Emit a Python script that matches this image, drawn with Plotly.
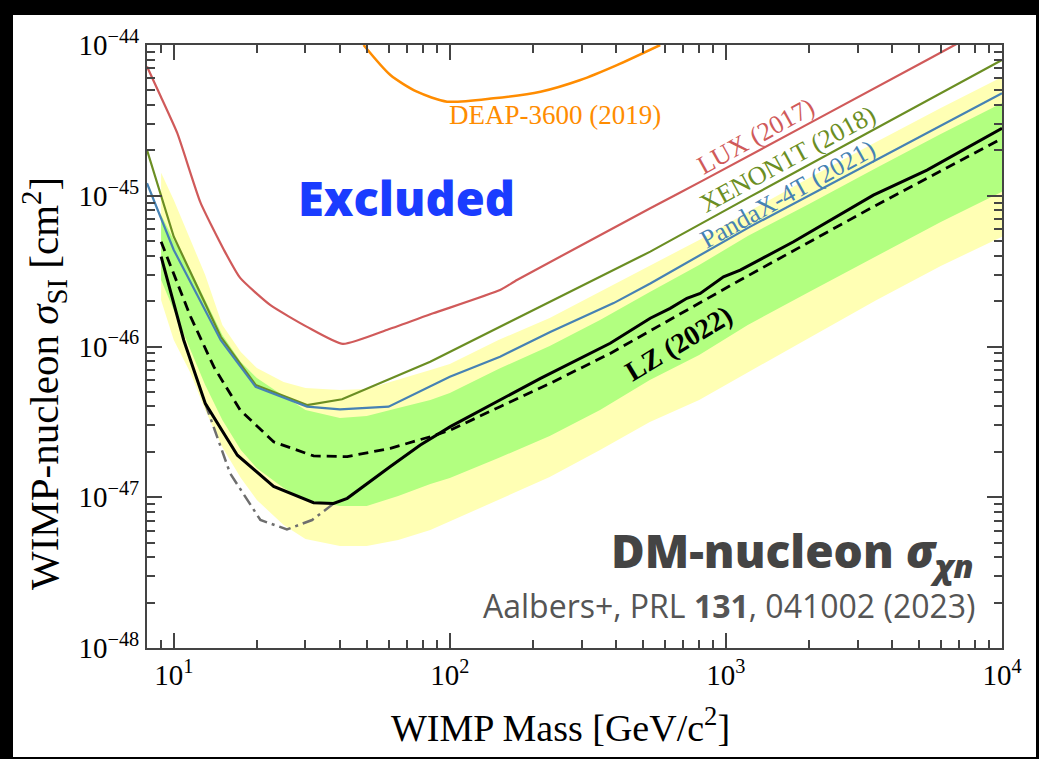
import plotly.graph_objects as go
import math

# ---------------- data ----------------
# LUX (2017)
lux_mass = [8, 9, 10.3, 12.5, 15.2, 17.4, 22.4, 30.4, 41, 60, 87, 152, 175, 532, 830, 5350, 10000]
lux_xsec = [7.2e-45, 4.5e-45, 2.6e-45, 9.0e-46, 4.37e-46, 2.85e-46, 1.88e-46, 1.35e-46, 1.04e-46,
            1.3e-46, 1.66e-46, 2.37e-46, 2.76e-46, 8.26e-46, 1.27e-45, 7.95e-45, 1.48e-44]

# XENON1T (2018)
x1t_mass = [8, 10, 14.8, 19.8, 30.4, 40.7, 84.9, 152, 231, 532, 1225, 10000]
x1t_xsec = [2.01e-45, 5.35e-46, 1.16e-46, 5.56e-47, 4.09e-47, 4.47e-47, 7.93e-47, 1.35e-46,
            1.98e-46, 4.26e-46, 9.87e-46, 7.95e-45]

# PandaX-4T (2021)
pdx_mass = [8, 10, 14.8, 19.8, 30.4, 40, 60, 100, 152, 231, 392, 532, 1225, 10000]
pdx_xsec = [1.21e-45, 4.37e-46, 1.1e-46, 5.4e-47, 3.99e-47, 3.83e-47, 3.99e-47, 6.3e-47, 8.55e-47,
            1.25e-46, 1.94e-46, 2.62e-46, 6.24e-46, 4.79e-45]

# DEAP-3600 (2019)
deap_mass = [48.7, 60.9, 76, 97.7, 144, 213, 297, 403, 578]
deap_xsec = [1.0e-44, 6.32e-45, 4.9e-45, 4.21e-45, 4.43e-45, 4.9e-45, 5.86e-45, 7.36e-45, 1.0e-44]

# LZ (2022) observed limit
lz_mass = [9, 10.87, 13, 17, 23, 32.1, 37.9, 42.5, 60.9, 78.2, 100.4, 152, 213, 381, 532, 628, 722,
           807, 980, 1127, 1757, 3420, 5350, 10000]
lz_xsec = [3.94e-46, 1.10e-46, 4.2e-47, 1.90e-47, 1.18e-47, 9.2e-48, 9.1e-48, 9.84e-48, 1.6e-47,
           2.22e-47, 2.94e-47, 4.42e-47, 6.15e-47, 1.05e-46, 1.54e-46, 1.79e-46, 2.09e-46, 2.25e-46,
           2.9e-46, 3.21e-46, 4.95e-46, 1.01e-45, 1.48e-45, 2.80e-45]

# LZ (2022) median sensitivity
med_mass = [9, 11.5, 13.96, 17.4, 23, 32.1, 42.5, 60.9, 84.9, 100.4, 152, 231, 381, 807, 1127, 3420, 10000]
med_xsec = [4.95e-46, 1.58e-46, 7.35e-47, 3.79e-47, 2.33e-47, 1.88e-47, 1.86e-47, 2.11e-47, 2.52e-47,
            2.79e-47, 3.99e-47, 5.7e-47, 9.0e-47, 1.94e-46, 2.76e-46, 8.45e-46, 2.40e-45]

# LZ (2022) dash-dot curve
pcl_mass = [13, 16, 20.6, 25.7, 31.7, 38]
pcl_xsec = [4.2e-47, 1.44e-47, 7.06e-48, 6.12e-48, 7.06e-48, 9.1e-48]

# Sensitivity bands
band_mass = [9, 10, 11.5, 13, 15, 17.5, 20, 25, 30, 40, 50, 65, 85, 100, 150, 230, 350, 530, 800,
             1200, 2000, 3500, 6000, 10000]
yellow_hi = [1.42e-45, 9.37e-46, 5.09e-46, 2.98e-46, 1.39e-46, 9.2e-47, 7.2e-47, 5.81e-47, 5.31e-47,
             5.14e-47, 5.22e-47, 6.0e-47, 6.98e-47, 7.65e-47, 1.104e-46, 1.546e-46, 2.30e-46, 3.42e-46,
             5.09e-46, 7.80e-46, 1.311e-45, 2.27e-45, 3.82e-45, 6.13e-45]
green_hi = [7.45e-46, 5.09e-46, 3.22e-46, 2.03e-46, 1.19e-46, 7.89e-47, 6.18e-47, 4.69e-47, 3.79e-47,
            3.36e-47, 3.46e-47, 3.91e-47, 4.42e-47, 4.91e-47, 7.09e-47, 1.008e-46, 1.50e-46, 2.30e-46,
            3.47e-46, 5.41e-46, 8.82e-46, 1.53e-45, 2.57e-45, 4.12e-45]
green_lo = [2.76e-46, 1.75e-46, 9.48e-47, 5.55e-47, 3.25e-47, 2.06e-47, 1.56e-47, 1.15e-47, 9.59e-48,
            8.75e-48, 8.75e-48, 1.02e-47, 1.224e-47, 1.34e-47, 1.82e-47, 2.55e-47, 3.79e-47, 6.0e-47,
            8.78e-47, 1.39e-46, 2.30e-46, 3.98e-46, 6.70e-46, 1.064e-45]
yellow_lo = [2.03e-46, 1.104e-46, 6.67e-47, 3.79e-47, 2.15e-47, 1.34e-47, 9.59e-48, 6.54e-48, 5.28e-48,
             4.75e-48, 4.75e-48, 5.20e-48, 6.06e-48, 6.85e-48, 9.59e-48, 1.36e-47, 2.06e-47, 3.16e-47,
             4.42e-47, 6.77e-47, 1.14e-46, 2.03e-46, 3.42e-46, 5.35e-46]

x_tick_vals = [10, 100, 1000, 10000]
x_tick_text = ["10<sup>1</sup>", "10<sup>2</sup>", "10<sup>3</sup>", "10<sup>4</sup>"]
y_tick_vals = [1e-48, 1e-47, 1e-46, 1e-45, 1e-44]
y_tick_text = ["10<sup>−48</sup>", "10<sup>−47</sup>", "10<sup>−46</sup>", "10<sup>−45</sup>", "10<sup>−44</sup>"]

x_minor_vals = [8, 9] + [d * k for d in (10, 100, 1000) for k in range(2, 10)]
y_minor_vals = [k * 10.0 ** e for e in (-48, -47, -46, -45) for k in range(2, 10)]

# ---------------- figure ----------------
SERIF = "Liberation Serif, Times New Roman, serif"
SANS = "Open Sans, Lato, sans-serif"

fig = go.Figure()

fig.add_trace(go.Scatter(x=band_mass + band_mass[::-1], y=yellow_hi + yellow_lo[::-1],
                         fill="toself", fillcolor="#ffffb4", line=dict(width=0), mode="lines",
                         hoverinfo="skip", showlegend=False))
fig.add_trace(go.Scatter(x=band_mass + band_mass[::-1], y=green_hi + green_lo[::-1],
                         fill="toself", fillcolor="#b2ff80", line=dict(width=0), mode="lines",
                         hoverinfo="skip", showlegend=False))

fig.add_trace(go.Scatter(x=deap_mass, y=deap_xsec, mode="lines",
                         line=dict(color="#ff8c00", width=2.5, shape="spline", smoothing=0.7),
                         showlegend=False))
fig.add_trace(go.Scatter(x=lux_mass, y=lux_xsec, mode="lines",
                         line=dict(color="#d05a5a", width=2.2, shape="spline", smoothing=0.5),
                         showlegend=False))
fig.add_trace(go.Scatter(x=x1t_mass, y=x1t_xsec, mode="lines",
                         line=dict(color="#6b8e23", width=2.2), showlegend=False))
fig.add_trace(go.Scatter(x=pdx_mass, y=pdx_xsec, mode="lines",
                         line=dict(color="#4682b4", width=2.2), showlegend=False))
fig.add_trace(go.Scatter(x=pcl_mass, y=pcl_xsec, mode="lines",
                         line=dict(color="#6e6e6e", width=2.5, dash="12px,5px,3px,5px"), showlegend=False))
fig.add_trace(go.Scatter(x=med_mass, y=med_xsec, mode="lines",
                         line=dict(color="black", width=2.8, dash="10px,6px"), showlegend=False))
fig.add_trace(go.Scatter(x=lz_mass, y=lz_xsec, mode="lines",
                         line=dict(color="black", width=3), showlegend=False))

axis_common = dict(
    type="log", showgrid=False, zeroline=False, showline=True, linecolor="#444", linewidth=2,
    mirror="allticks", ticks="inside", ticklen=15, tickwidth=2, tickcolor="#444",
    tickfont=dict(family=SERIF, size=29, color="black"),
)

fig.update_xaxes(range=[math.log10(8), 4], tickmode="array", tickvals=x_tick_vals, ticktext=x_tick_text,
                 minor=dict(ticks="inside", ticklen=8, tickwidth=1.5, tickcolor="#444", showgrid=False,
                            tickmode="array", tickvals=x_minor_vals),
                 **axis_common)
fig.update_yaxes(range=[-48, -44], tickmode="array", tickvals=y_tick_vals, ticktext=y_tick_text,
                 minor=dict(ticks="inside", ticklen=8, tickwidth=1.5, tickcolor="#444", showgrid=False,
                            tickmode="array", tickvals=y_minor_vals),
                 **axis_common)

def P(px, py):
    return (px - 147) / 855, (648 - py) / 603

annos = []
def add_text(text, px, py, size, color, family=SERIF, angle=0, xanchor="center", weight=None):
    x, y = P(px, py)
    f = dict(family=family, size=size, color=color)
    if weight:
        f["weight"] = weight
    annos.append(dict(text=text, x=x, y=y, xref="paper", yref="paper", showarrow=False,
                      textangle=angle, xanchor=xanchor, yanchor="middle", font=f))

add_text("DEAP-3600 (2019)", 555, 115, 27, "#ff8c00")
add_text("LUX (2017)", 755, 136, 26, "#d05a5a", angle=-29)
add_text("XENON1T (2018)", 787, 159, 26, "#6b8e23", angle=-28.5)
add_text("PandaX-4T (2021)", 787, 194, 26, "#4682b4", angle=-29)
add_text("<b>LZ (2022)</b>", 678, 343, 28, "black", angle=-31)
add_text("Excluded", 406, 198, 47, "#1a3cff", family=SANS, weight=800)
add_text("DM-nucleon <i>σ<sub>χn</sub></i>", 976, 553, 46, "#444444", family=SANS,
         xanchor="right", weight=800)
add_text("Aalbers+, PRL <b>131</b>, 041002 (2023)", 978, 605, 32, "#555555", family=SANS,
         xanchor="right")
add_text("WIMP Mass [GeV/c<sup>2</sup>]", 560, 725, 38, "black")
add_text("WIMP-nucleon <i>σ</i><sub>SI</sub> [cm<sup>2</sup>]", 44, 384, 41, "black", angle=-90)

fig.update_layout(
    width=1039, height=759,
    margin=dict(l=147, r=37, t=45, b=111),
    paper_bgcolor="black", plot_bgcolor="white",
    annotations=annos,
    shapes=[dict(type="rect", xref="paper", yref="paper",
                 x0=(13 - 147) / 855, x1=(1036 - 147) / 855,
                 y0=(648 - 757) / 603, y1=(648 - 15) / 603,
                 fillcolor="white", line=dict(width=0), layer="below")],
    showlegend=False,
)

fig.write_html("out.html")
